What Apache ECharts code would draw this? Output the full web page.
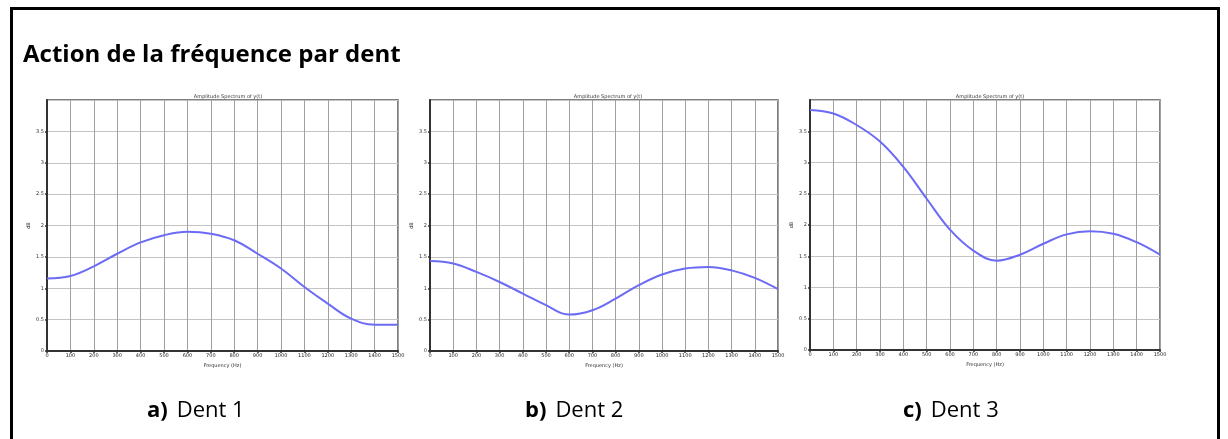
<!DOCTYPE html>
<html><head><meta charset="utf-8">
<script src="https://cdn.jsdelivr.net/npm/echarts@6/dist/echarts.min.js"></script>
<style>html,body{margin:0;padding:0;background:#fff}#c{width:1228px;height:439px}</style>
</head><body><div id="c"></div>
<script>
// Data
const freq = [0,100,200,300,400,500,600,700,800,900,1000,1100,1200,1300,1400,1500];
const dent1 = [1.155,1.195,1.35,1.55,1.73,1.845,1.9,1.87,1.765,1.55,1.315,1.02,0.755,0.515,0.42,0.42];
const dent2 = [1.435,1.395,1.26,1.10,0.915,0.73,0.58,0.65,0.835,1.05,1.22,1.315,1.34,1.285,1.165,0.985];
const dent3 = [3.84,3.785,3.6,3.335,2.93,2.42,1.925,1.59,1.43,1.525,1.7,1.85,1.9,1.86,1.725,1.525];
const panelTitles = ['Amplitude Spectrum of y(t)','Amplitude Spectrum of y(t)','Amplitude Spectrum of y(t)'];
const captionLetters = ['a)','b)','c)'];
const captionNames = ['Dent 1','Dent 2','Dent 3'];
const mainTitle = 'Action de la fréquence par dent';
const xLabel = 'Frequency (Hz)';
const yLabel = 'dB';

const series = [dent1, dent2, dent3];
const grids = [
  {left:47, top:100, width:351, height:251},
  {left:430, top:100, width:348, height:251},
  {left:810, top:100, width:350, height:250}
];
const titleCenters = [223, 603, 985];
const captionLefts = [142, 520, 898];

const chart = echarts.init(document.getElementById('c'), null, {renderer:'canvas'});
const titles = [{
  text: mainTitle, left: 18, top: 38,
  textStyle:{fontFamily:'Open Sans', fontWeight:'bold', fontSize:24, color:'#000'}
}];
panelTitles.forEach((t,i)=>titles.push({
  text:t, left:titleCenters[i], top:89, textAlign:'center',
  textStyle:{fontFamily:'DejaVu Sans', fontWeight:'normal', fontSize:5, color:'#333'}
}));
captionLetters.forEach((l,i)=>titles.push({
  text:'{b|'+l+'} {r|'+captionNames[i]+'}', left:captionLefts[i], top:392,
  textStyle:{rich:{
    b:{fontFamily:'Open Sans', fontWeight:'bold', fontSize:22, lineHeight:28, color:'#000', padding:[0,4,0,0]},
    r:{fontFamily:'Open Sans', fontWeight:'normal', fontSize:22, lineHeight:28, color:'#000'}
  }}
}));

const option = {
  animation:false,
  backgroundColor:'#fff',
  title: titles,
  graphic:[{
    type:'rect', shape:{x:11.5, y:8.5, width:1207, height:440},
    style:{fill:null, stroke:'#000', lineWidth:3}, silent:true
  }],
  grid: grids.map(g=>Object.assign({show:true, borderColor:'#555', borderWidth:1.5, backgroundColor:'#fff'}, g)),
  xAxis: grids.map((g,i)=>({
    type:'value', gridIndex:i, min:0, max:1500, interval:100,
    name:xLabel, nameLocation:'middle', nameGap:10,
    nameTextStyle:{fontSize:5, color:'#333', fontFamily:'DejaVu Sans'},
    axisLine:{show:true, lineStyle:{color:'#333', width:2}},
    axisTick:{show:true, length:2, lineStyle:{color:'#333', width:1.5}},
    axisLabel:{fontSize:5, color:'#222', margin:2, fontFamily:'DejaVu Sans', formatter:v=>String(v)},
    splitLine:{show:true, lineStyle:{color:'#a0a0a0', width:1}}
  })),
  yAxis: grids.map((g,i)=>({
    type:'value', gridIndex:i, min:0, max:4, interval:0.5,
    name:yLabel, nameLocation:'middle', nameGap:16, nameRotate:90,
    nameTextStyle:{fontSize:5, color:'#333', fontFamily:'DejaVu Sans'},
    axisLine:{show:true, lineStyle:{color:'#333', width:2}},
    axisTick:{show:true, length:2, lineStyle:{color:'#333', width:1.5}},
    axisLabel:{fontSize:5, color:'#333', margin:3, showMaxLabel:false, fontFamily:'DejaVu Sans'},
    splitLine:{show:true, lineStyle:{color:'#c4c4c4', width:1}}
  })),
  series: series.map((d,i)=>({
    type:'line', xAxisIndex:i, yAxisIndex:i, smooth:0.4, showSymbol:false,
    lineStyle:{color:'#6b6bf5', width:2},
    data: freq.map((f,k)=>[f, d[k]])
  }))
};
chart.setOption(option);
</script></body></html>
